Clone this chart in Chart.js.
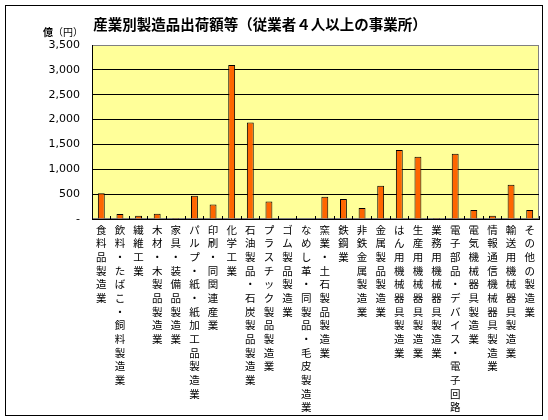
<!DOCTYPE html>
<html>
<head>
<meta charset="utf-8">
<script src="https://cdn.jsdelivr.net/npm/chart.js@4.4.1/dist/chart.umd.min.js"></script>
<style>
  html, body { margin: 0; padding: 0; background: #fff; }
  canvas { display: block; }
</style>
</head>
<body>
<canvas id="chart" width="548" height="420"></canvas>
<script>
'use strict';

const title = '産業別製造品出荷額等（従業者４人以上の事業所）';
const unitLabel = ['億', '（円）'];

const categories = [
  '食料品製造業',
  '飲料・たばこ・飼料製造業',
  '繊維工業',
  '木材・木製品製造業',
  '家具・装備品製造業',
  'パルプ・紙・紙加工品製造業',
  '印刷・同関連産業',
  '化学工業',
  '石油製品・石炭製品製造業',
  'プラスチック製品製造業',
  'ゴム製品製造業',
  'なめし革・同製品・毛皮製造業',
  '窯業・土石製品製造業',
  '鉄鋼業',
  '非鉄金属製造業',
  '金属製品製造業',
  'はん用機械器具製造業',
  '生産用機械器具製造業',
  '業務用機械器具製造業',
  '電子部品・デバイス・電子回路',
  '電気機械器具製造業',
  '情報通信機械器具製造業',
  '輸送用機械器具製造業',
  'その他の製造業'
];

// 億円
const values = [
  520, 100, 65, 105, 20, 470, 290, 3100, 1940, 350, null, null,
  450, 400, 220, 670, 1390, 1250, 20, 1310, 180, 65, 690, 180
];

const yMin = 0;
const yMax = 3500;
const yStep = 500;

// vertical labels: one character per line
const verticalLabels = categories.map(s => Array.from(s));

const frame = {
  id: 'frame',
  beforeDraw(chart) {
    const { ctx, chartArea: a } = chart;
    ctx.save();
    ctx.fillStyle = '#fff';
    ctx.fillRect(0, 0, chart.width, chart.height);
    ctx.fillStyle = '#FFFF99';
    ctx.fillRect(a.left, a.top, a.right - a.left, a.bottom - a.top);
    ctx.strokeStyle = '#808080';
    ctx.lineWidth = 1;
    ctx.strokeRect(a.left + 0.5, a.top + 0.5, a.right - a.left - 1, a.bottom - a.top - 1);
    ctx.restore();
  },
  afterDraw(chart) {
    const ctx = chart.ctx;
    ctx.save();
    ctx.strokeStyle = '#000';
    ctx.lineWidth = 1;
    ctx.strokeRect(5.5, 5.5, 537, 410);

    ctx.fillStyle = '#000';
    ctx.textBaseline = 'middle';
    ctx.textAlign = 'center';
    ctx.font = 'bold 14.5px "Noto Sans CJK JP"';
    ctx.fillText(title, 260, 24);

    ctx.textAlign = 'left';
    ctx.font = 'bold 10px "Noto Sans CJK JP"';
    ctx.fillText(unitLabel[0], 43, 32);
    ctx.font = '10px "Noto Sans CJK JP"';
    ctx.fillText(unitLabel[1], 53, 32);
    ctx.restore();
  }
};

const ctx = document.getElementById('chart');

let chart = new Chart(ctx, {
  type: 'bar',
  data: {
    labels: verticalLabels,
    datasets: [{
      label: '出荷額',
      data: values,
      backgroundColor: '#FF6600',
      borderColor: '#000',
      borderWidth: 1,
      categoryPercentage: 1,
      barPercentage: 0.37
    }]
  },
  options: {
    responsive: false,
    animation: false,
    events: [],
    layout: {
      padding: { top: 45, right: 9, left: 0, bottom: 0 }
    },
    plugins: {
      legend: { display: false },
      title: { display: false },
      tooltip: { enabled: false }
    },
    scales: {
      x: {
        afterFit(scale) { scale.height = 201; },
        grid: {
          drawOnChartArea: false,
          drawTicks: true,
          tickLength: -3,
          color: '#000'
        },
        border: { color: '#000', width: 1 },
        ticks: {
          autoSkip: false,
          maxRotation: 0,
          minRotation: 0,
          padding: 7,
          color: '#000',
          font: { family: '"Noto Sans CJK JP"', size: 10.5, lineHeight: 1.3 }
        }
      },
      y: {
        min: yMin,
        max: yMax,
        afterFit(scale) { scale.width = 92; },
        grid: {
          drawTicks: false,
          color: (c) => (c.tick && c.tick.value === yMax ? '#808080' : '#000'),
          lineWidth: 1
        },
        border: { color: '#000', width: 1 },
        ticks: {
          stepSize: yStep,
          padding: 12,
          color: '#000',
          font: { family: '"DejaVu Sans"', size: 11 },
          callback: (v) => (v === 0 ? '-' : v.toLocaleString('en-US'))
        }
      }
    }
  },
  plugins: [frame]
});
</script>
</body>
</html>
